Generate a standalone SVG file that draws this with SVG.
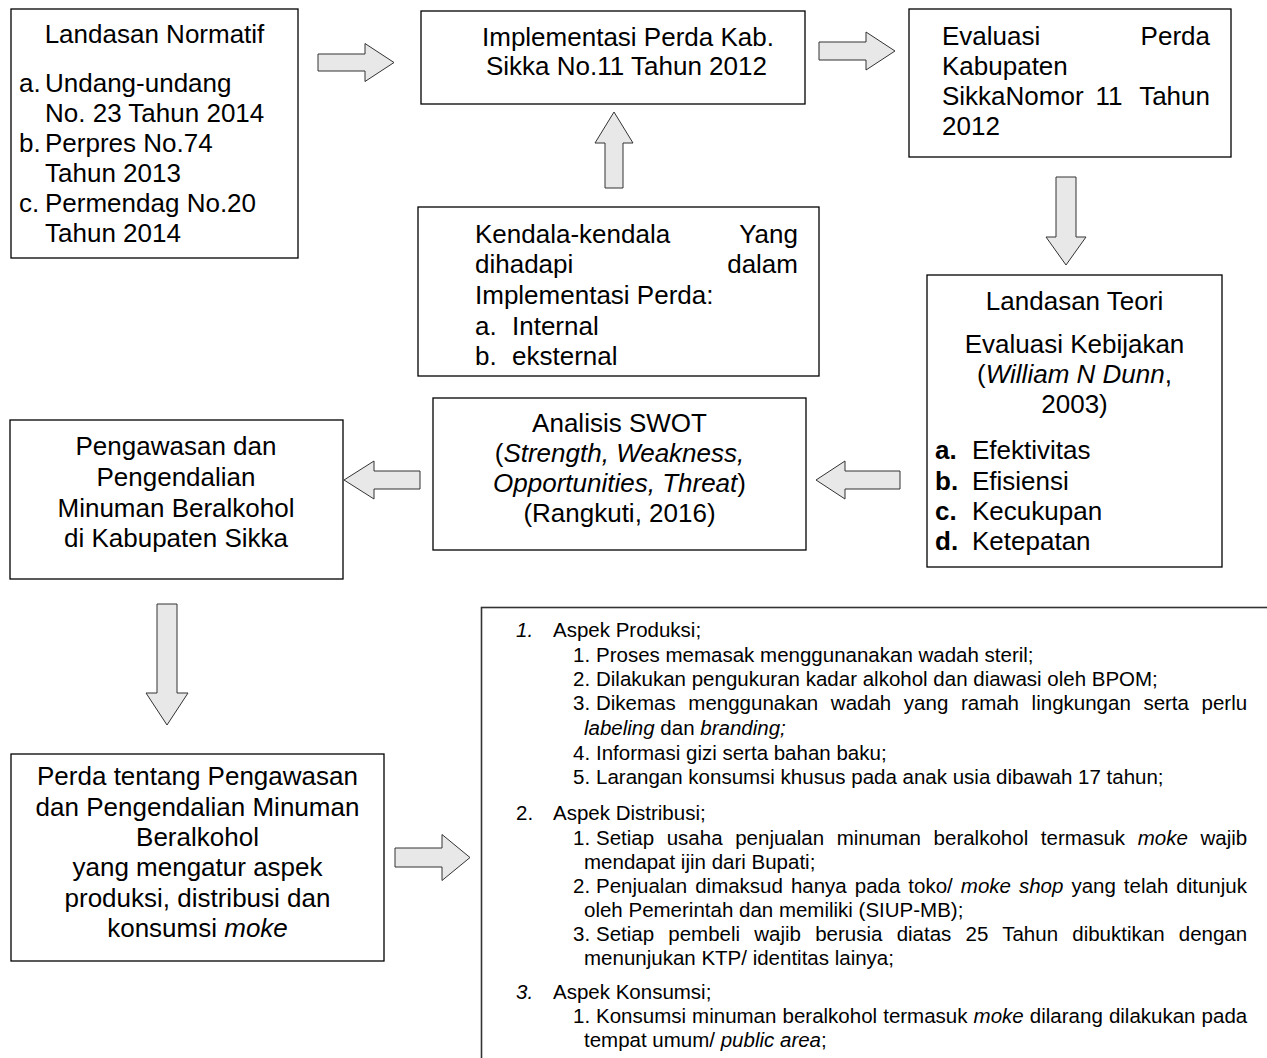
<svg xmlns="http://www.w3.org/2000/svg" width="1267" height="1058" viewBox="0 0 1267 1058">
<style>
.box{fill:#fff;stroke:#000;stroke-width:1.3}
.open{fill:#fff;stroke:#333;stroke-width:1.6}
.arr{fill:#e8e8e8;stroke:#333;stroke-width:1}
text{font-family:"Liberation Sans",Arial,sans-serif;font-size:26px;fill:#000}
.c{text-anchor:middle}
.e{text-anchor:end}
.s{font-size:20.5px}
.i{font-style:italic}
.b{font-weight:bold}
</style>
<rect width="1267" height="1058" fill="#fff"/>

<g id="connectors">
<polygon class="arr" points="318,54 365,54 365,43.5 394,62.5 365,81.5 365,71 318,71"/>
<polygon class="arr" points="819,42 866,42 866,32 895,51 866,70 866,60 819,60"/>
<polygon class="arr" points="605,188 605,143 595,143 614,112 633,143 623,143 623,188"/>
<polygon class="arr" points="1056,177 1076,177 1076,237 1086,237 1066,265 1046,237 1056,237"/>
<polygon class="arr" points="900,471 845,471 845,461 816,480 845,499 845,489 900,489"/>
<polygon class="arr" points="420,471 374,471 374,461 344,480 374,499 374,489 420,489"/>
<polygon class="arr" points="157,604 177,604 177,693 188,693 167,725 146,693 157,693"/>
<polygon class="arr" points="395,848 442,848 442,834.5 470,857.5 442,880.5 442,867 395,867"/>
</g>

<g id="landasan-normatif">
<rect class="box" x="11" y="9" width="287" height="249"/>
<text class="c" x="154.5" y="43">Landasan Normatif</text>
<text x="19" y="92">a.</text><text x="45" y="92">Undang-undang</text>
<text x="45" y="122">No. 23 Tahun 2014</text>
<text x="19" y="152">b.</text><text x="45" y="152">Perpres No.74</text>
<text x="45" y="182">Tahun 2013</text>
<text x="19" y="212">c.</text><text x="45" y="212">Permendag No.20</text>
<text x="45" y="242">Tahun 2014</text>
</g>

<g id="implementasi">
<rect class="box" x="421" y="11" width="384" height="93"/>
<text x="482" y="46">Implementasi Perda Kab.</text>
<text x="486" y="75">Sikka No.11 Tahun 2012</text>
</g>

<g id="evaluasi-perda">
<rect class="box" x="909" y="9" width="322" height="148"/>
<text x="942" y="45">Evaluasi</text><text class="e" x="1210" y="45">Perda</text>
<text x="942" y="75">Kabupaten</text>
<text x="942" y="105">SikkaNomor</text><text x="1095.5" y="105">11</text><text class="e" x="1210" y="105">Tahun</text>
<text x="942" y="135">2012</text>
</g>

<g id="kendala">
<rect class="box" x="418" y="207" width="401" height="169"/>
<text x="475" y="243">Kendala-kendala</text><text class="e" x="798" y="243">Yang</text>
<text x="475" y="273">dihadapi</text><text class="e" x="798" y="273">dalam</text>
<text x="475" y="304">Implementasi Perda:</text>
<text x="475" y="335">a.</text><text x="512" y="335">Internal</text>
<text x="475" y="365">b.</text><text x="512" y="365">eksternal</text>
</g>

<g id="landasan-teori">
<rect class="box" x="927" y="275" width="295" height="292"/>
<text class="c" x="1074.5" y="310">Landasan Teori</text>
<text class="c" x="1074.5" y="353">Evaluasi Kebijakan</text>
<text class="c" x="1074.5" y="383">(<tspan class="i">William N Dunn</tspan>,</text>
<text class="c" x="1074.5" y="413">2003)</text>
<text class="b" x="935" y="459">a.</text><text x="972" y="459">Efektivitas</text>
<text class="b" x="935" y="490">b.</text><text x="972" y="490">Efisiensi</text>
<text class="b" x="935" y="520">c.</text><text x="972" y="520">Kecukupan</text>
<text class="b" x="935" y="550">d.</text><text x="972" y="550">Ketepatan</text>
</g>

<g id="swot">
<rect class="box" x="433" y="398" width="373" height="152"/>
<text class="c" x="619.5" y="432">Analisis SWOT</text>
<text class="c" x="619.5" y="462">(<tspan class="i">Strength, Weakness,</tspan></text>
<text class="c" x="619.5" y="492"><tspan class="i">Opportunities, Threat</tspan>)</text>
<text class="c" x="619.5" y="522">(Rangkuti, 2016)</text>
</g>

<g id="pengawasan">
<rect class="box" x="10" y="420" width="333" height="159"/>
<text class="c" x="176" y="455">Pengawasan dan</text>
<text class="c" x="176" y="486">Pengendalian</text>
<text class="c" x="176" y="517">Minuman Beralkohol</text>
<text class="c" x="176" y="547">di Kabupaten Sikka</text>
</g>

<g id="perda">
<rect class="box" x="11" y="754" width="373" height="207"/>
<text class="c" x="197.5" y="785">Perda tentang Pengawasan</text>
<text class="c" x="197.5" y="816">dan Pengendalian Minuman</text>
<text class="c" x="197.5" y="846">Beralkohol</text>
<text class="c" x="197.5" y="876">yang mengatur aspek</text>
<text class="c" x="197.5" y="907">produksi, distribusi dan</text>
<text class="c" x="197.5" y="937">konsumsi <tspan class="i">moke</tspan></text>
</g>

<g id="aspek">
<rect class="open" x="481.5" y="607.5" width="900" height="600"/>
<text class="s i" x="516" y="637">1.</text><text class="s" x="553" y="637">Aspek Produksi;</text>
<text class="s" x="573" y="662">1.</text><text class="s" x="596" y="662">Proses memasak menggunanakan wadah steril;</text>
<text class="s" x="573" y="686">2.</text><text class="s" x="596" y="686">Dilakukan pengukuran kadar alkohol dan diawasi oleh BPOM;</text>
<text class="s" x="573" y="710">3.</text><text class="s" x="596" y="710" style="word-spacing:6.9px">Dikemas menggunakan wadah yang ramah lingkungan serta perlu</text>
<text class="s" x="584" y="735"><tspan class="i">labeling</tspan> dan <tspan class="i">branding;</tspan></text>
<text class="s" x="573" y="760">4.</text><text class="s" x="596" y="760">Informasi gizi serta bahan baku;</text>
<text class="s" x="573" y="784">5.</text><text class="s" x="596" y="784">Larangan konsumsi khusus pada anak usia dibawah 17 tahun;</text>
<text class="s" x="516" y="820">2.</text><text class="s" x="553" y="820">Aspek Distribusi;</text>
<text class="s" x="573" y="845">1.</text><text class="s" x="596" y="845" style="word-spacing:6.9px">Setiap usaha penjualan minuman beralkohol termasuk <tspan class="i">moke</tspan> wajib</text>
<text class="s" x="584" y="869">mendapat ijin dari Bupati;</text>
<text class="s" x="573" y="893">2.</text><text class="s" x="596" y="893" style="word-spacing:2.3px">Penjualan dimaksud hanya pada toko/ <tspan class="i">moke shop</tspan> yang telah ditunjuk</text>
<text class="s" x="584" y="917">oleh Pemerintah dan memiliki (SIUP-MB);</text>
<text class="s" x="573" y="941">3.</text><text class="s" x="596" y="941" style="word-spacing:8.5px">Setiap pembeli wajib berusia diatas 25 Tahun dibuktikan dengan</text>
<text class="s" x="584" y="965">menunjukan KTP/ identitas lainya;</text>
<text class="s i" x="516" y="999">3.</text><text class="s" x="553" y="999">Aspek Konsumsi;</text>
<text class="s" x="573" y="1023">1.</text><text class="s" x="596" y="1023" style="word-spacing:0.4px">Konsumsi minuman beralkohol termasuk <tspan class="i">moke</tspan> dilarang dilakukan pada</text>
<text class="s" x="584" y="1047">tempat umum/ <tspan class="i">public area</tspan>;</text>
</g>
</svg>
